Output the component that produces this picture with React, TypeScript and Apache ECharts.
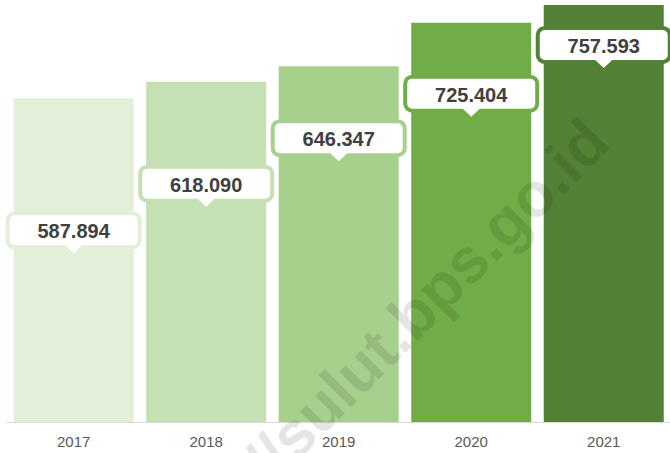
import React, { useEffect, useRef } from "react";
import * as echarts from "echarts";

const years = ["2017", "2018", "2019", "2020", "2021"];
const values = [587.894, 618.09, 646.347, 725.404, 757.593];
const valueLabels = ["587.894", "618.090", "646.347", "725.404", "757.593"];
const barColors = ["#e2efd9", "#c5e0b3", "#a8d08d", "#70ad47", "#538135"];
// vertical offset (px) of each callout centre below the bar top
const calloutOffsets = [132, 102, 72, 71, 40];

const FONT = '"Liberation Sans", Arial, Helvetica, sans-serif';

export default function App() {
  const ref = useRef<HTMLDivElement>(null);
  useEffect(() => {
    if (!ref.current) return;
    const chart = echarts.init(ref.current, undefined, { renderer: "svg" });
    const option: any = {
      animation: false,
      grid: { left: 7.4, width: 666.25, top: 3.6, bottom: 31, containLabel: false },
      xAxis: {
        type: "category",
        data: years,
        axisTick: { show: false },
        axisLine: { lineStyle: { color: "#d9d9d9", width: 1 } },
        axisLabel: { color: "#595959", fontSize: 15, fontFamily: FONT, margin: 12 },
      },
      yAxis: { type: "value", min: 0, max: 760, show: false, splitLine: { show: false } },
      series: [
        {
          type: "bar",
          barWidth: 120,
          data: values.map((v, i) => ({ value: v, itemStyle: { color: barColors[i] } })),
        },
        {
          type: "custom",
          clip: false,
          z: 5,
          data: values.map((v, i) => [i, v]),
          renderItem: (params: any, api: any) => {
            const idx = api.value(0);
            const v = api.value(1);
            const pt = api.coord([idx, v]);
            const cx = pt[0];
            const cy = pt[1] + calloutOffsets[idx];
            const w = 132;
            const h = 34;
            const color = barColors[idx];
            const bottom = cy + h / 2;
            return {
              type: "group",
              children: [
                {
                  type: "rect",
                  shape: { x: cx - w / 2, y: cy - h / 2, width: w, height: h, r: 7 },
                  style: { fill: "#ffffff", stroke: color, lineWidth: 4 },
                },
                {
                  type: "polygon",
                  shape: { points: [[cx - 9, bottom - 2.5], [cx + 9, bottom - 2.5], [cx, bottom + 6]] },
                  style: { fill: "#ffffff" },
                },
                {
                  type: "text",
                  style: {
                    text: valueLabels[idx],
                    x: cx,
                    y: cy + 1,
                    align: "center",
                    verticalAlign: "middle",
                    textAlign: "center",
                    textVerticalAlign: "middle",
                    fill: "#404040",
                    fontSize: 20,
                    fontWeight: "bold",
                    fontFamily: FONT,
                  },
                },
              ],
            };
          },
        },
      ],
      graphic: [
        {
          type: "text",
          x: 597,
          y: 130,
          rotation: Math.PI / 4,
          z: 100,
          silent: true,
          style: {
            text: "https://sulut.bps.go.id",
            fill: "rgba(0,0,0,0.1)",
            fontSize: 63,
            fontWeight: "bold",
            fontFamily: FONT,
            align: "right",
            verticalAlign: "middle",
            textAlign: "right",
            textVerticalAlign: "middle",
          },
        },
      ],
    };
    chart.setOption(option);
    return () => chart.dispose();
  }, []);
  return (
    <div
      ref={ref}
      style={{ position: "fixed", left: 0, top: 0, width: 670, height: 453, background: "#ffffff" }}
    />
  );
}
